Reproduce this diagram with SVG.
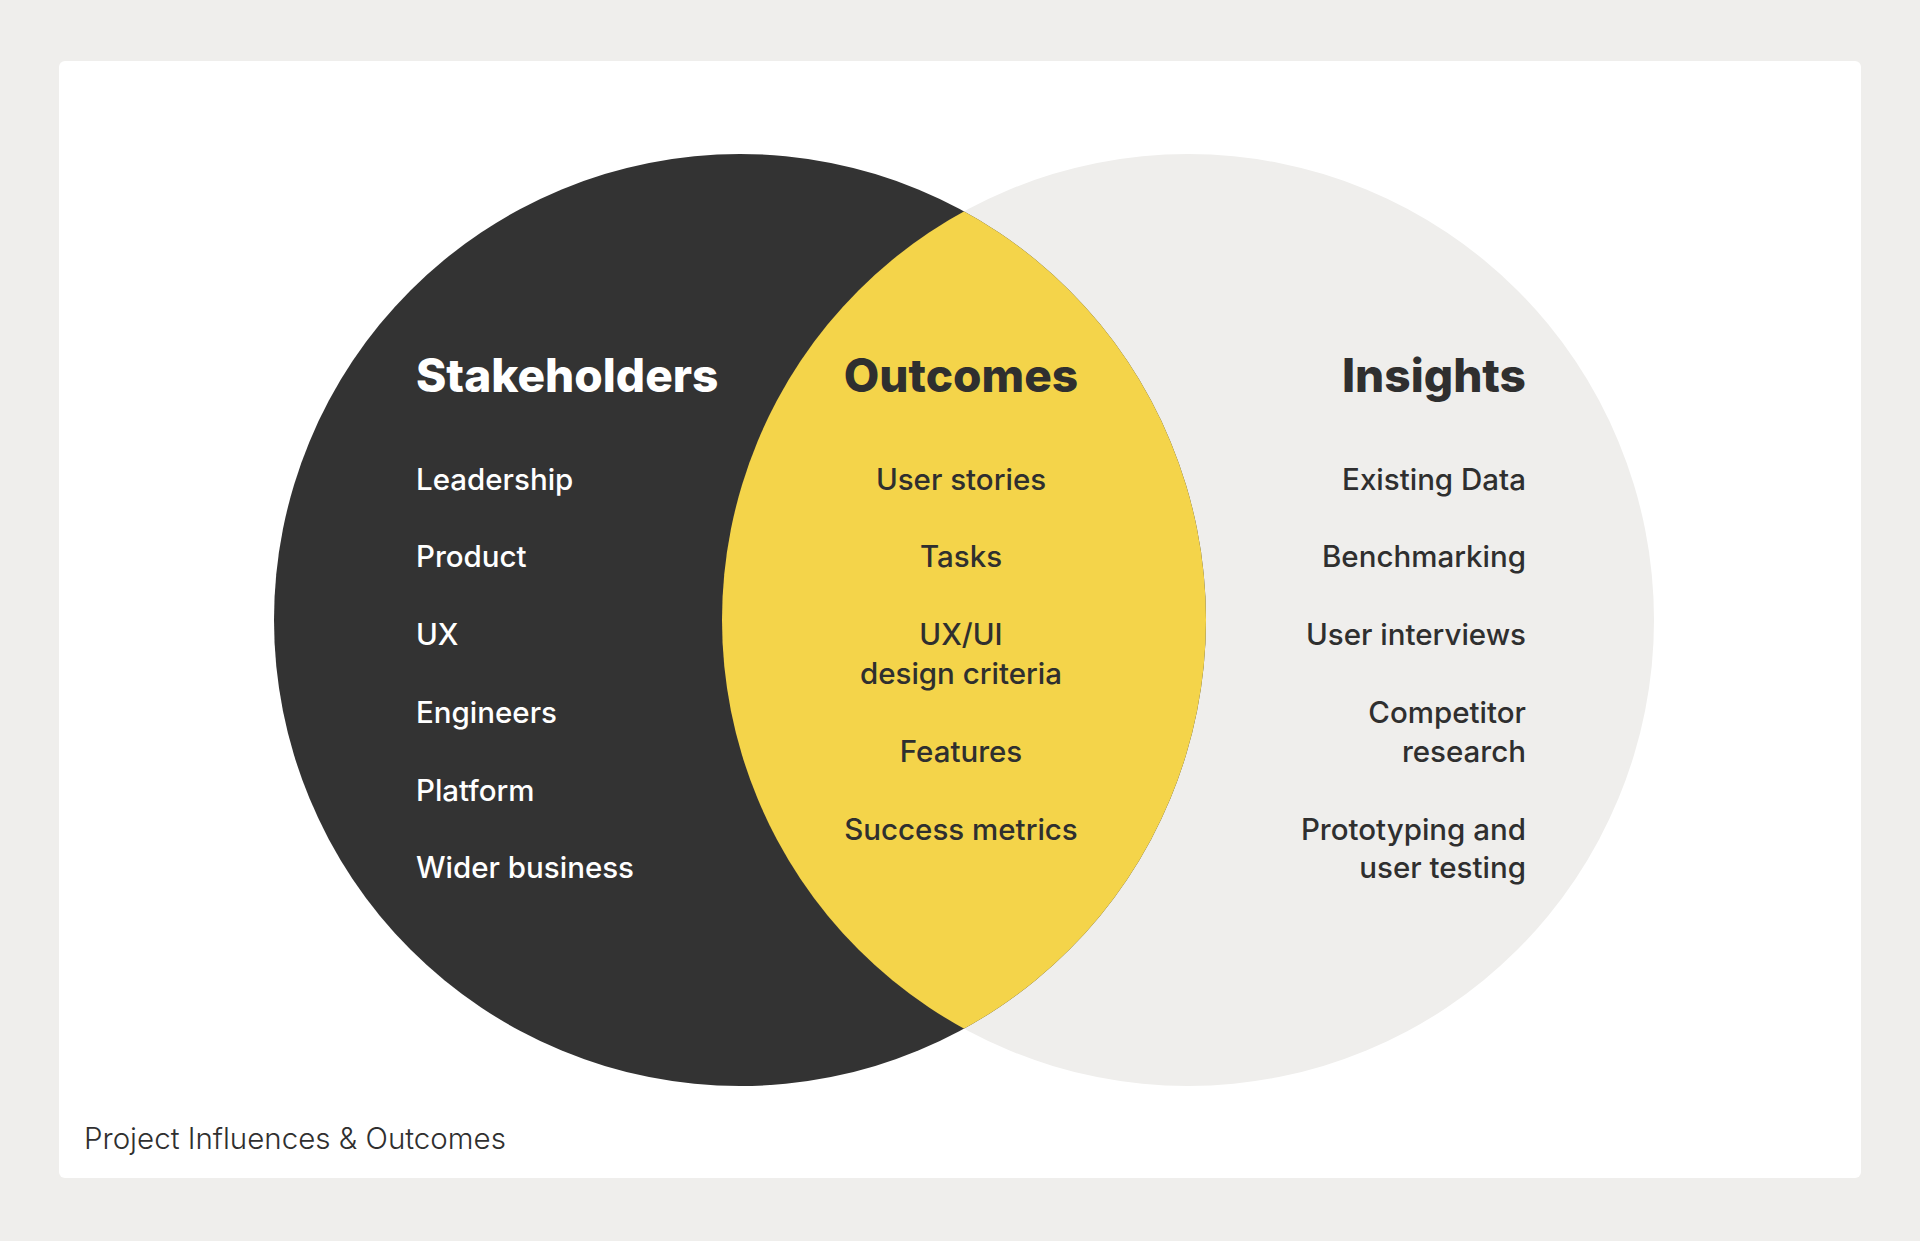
<svg xmlns="http://www.w3.org/2000/svg" width="1920" height="1241" viewBox="0 0 1920 1241">
<style>
.h{font-family:Inter,"Liberation Sans",sans-serif;font-weight:800;font-size:46px}
.i{font-family:Inter,"Liberation Sans",sans-serif;font-weight:500;font-size:29.5px}
.w{fill:#ffffff}.d{fill:#2f2f2f}
</style>
<defs><clipPath id="lc"><circle cx="740" cy="620" r="466"/></clipPath></defs>
<rect width="1920" height="1241" fill="#efeeec"/>
<rect x="59" y="61" width="1802" height="1117" rx="6" fill="#ffffff"/>
<g id="insights-circle"><circle cx="1188" cy="620" r="466" fill="#efeeec"/></g>
<g id="stakeholders-circle"><circle cx="740" cy="620" r="466" fill="#333333"/></g>
<g id="outcomes-area"><circle cx="1188" cy="620" r="466" fill="#f4d44a" clip-path="url(#lc)"/></g>
<g id="stakeholders" class="w">
<text class="h" x="416" y="392">Stakeholders</text>
<text class="i" x="416" y="490">Leadership</text>
<text class="i" x="416" y="567">Product</text>
<text class="i" x="416" y="645">UX</text>
<text class="i" x="416" y="723">Engineers</text>
<text class="i" x="416" y="801">Platform</text>
<text class="i" x="416" y="878">Wider business</text>
</g>
<g id="outcomes" class="d" text-anchor="middle">
<text class="h" x="961" y="392">Outcomes</text>
<text class="i" x="961" y="490">User stories</text>
<text class="i" x="961" y="567">Tasks</text>
<text class="i" x="961" y="645">UX/UI</text>
<text class="i" x="961" y="684">design criteria</text>
<text class="i" x="961" y="762">Features</text>
<text class="i" x="961" y="840">Success metrics</text>
</g>
<g id="insights" class="d" text-anchor="end">
<text class="h" x="1526" y="392">Insights</text>
<text class="i" x="1526" y="490">Existing Data</text>
<text class="i" x="1526" y="567">Benchmarking</text>
<text class="i" x="1526" y="645">User interviews</text>
<text class="i" x="1526" y="723">Competitor</text>
<text class="i" x="1526" y="762">research</text>
<text class="i" x="1526" y="840">Prototyping and</text>
<text class="i" x="1526" y="878">user testing</text>
</g>
<g id="connectors"/>
<text x="84" y="1149" font-family="Inter,'Liberation Sans',sans-serif" font-weight="300" font-size="29.5" fill="#2f2f2f">Project Influences &amp; Outcomes</text>
</svg>
